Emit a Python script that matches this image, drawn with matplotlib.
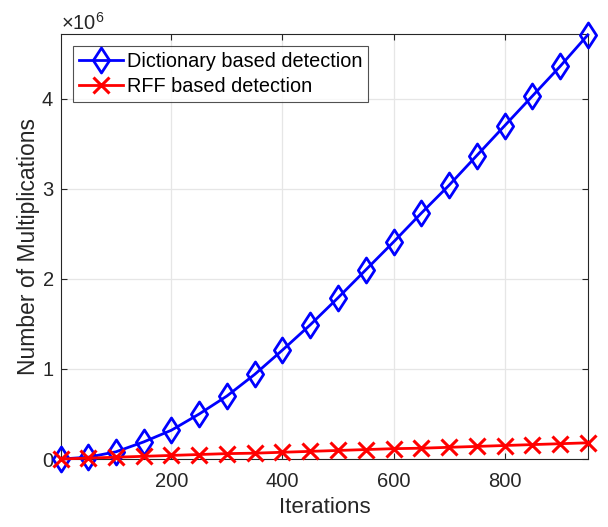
import matplotlib
matplotlib.use("Agg")
import matplotlib.pyplot as plt
from matplotlib.path import Path

plt.rcParams['font.family'] = ['Liberation Sans', 'DejaVu Sans']
plt.rcParams['mathtext.fontset'] = 'custom'
plt.rcParams['mathtext.rm'] = 'Liberation Sans'

iterations = [1, 50, 100, 150, 200, 250, 300, 350, 400, 450, 500,
              550, 600, 650, 700, 750, 800, 850, 900, 950]
dict_mults = [0.0, 0.02, 0.08, 0.19, 0.32, 0.50, 0.70, 0.94, 1.21, 1.49, 1.79,
              2.10, 2.41, 2.73, 3.04, 3.37, 3.70, 4.03, 4.36, 4.71]
rff_mults = [0.0, 0.01, 0.02, 0.03, 0.04, 0.05, 0.06, 0.065, 0.075, 0.085, 0.095,
             0.105, 0.115, 0.12, 0.13, 0.14, 0.15, 0.16, 0.17, 0.18]
dict_mults = [v * 1e6 for v in dict_mults]
rff_mults = [v * 1e6 for v in rff_mults]

xticks = [200, 400, 600, 800]
yticks = [0, 1e6, 2e6, 3e6, 4e6]

# matlab style diamond, a bit taller than wide
diamond = Path([(0, 1), (0.65, 0), (0, -1), (-0.65, 0), (0, 1)],
               [Path.MOVETO, Path.LINETO, Path.LINETO, Path.LINETO, Path.CLOSEPOLY])

fig = plt.figure(figsize=(6.08, 5.27), dpi=100)
ax = fig.add_axes([0.1003, 0.129, 0.8665, 0.8065])

ax.plot(iterations, dict_mults, color='#0000ff', lw=2, marker=diamond, ms=18,
        mfc='none', mew=2, clip_on=False, zorder=3, label='Dictionary based detection')
ax.plot(iterations, rff_mults, color='#ff0000', lw=2, marker='x', ms=12,
        mew=2.2, clip_on=False, zorder=3, label='RFF based detection')

ax.set_xlim(1, 950)
ax.set_ylim(0, 4.72e6)
ax.set_xticks(xticks)
ax.set_yticks(yticks)
ax.ticklabel_format(axis='y', style='sci', scilimits=(6, 6), useMathText=True)
ax.yaxis.get_offset_text().set_fontsize(14.5)
ax.yaxis.get_offset_text().set_color('#262626')

ax.grid(True, color='#e6e6e6', lw=0.9)
ax.set_axisbelow(True)
ax.tick_params(direction='in', top=True, right=True, length=4, width=0.8,
               labelsize=14.5, colors='#262626', labelcolor='#262626')
ax.tick_params(axis='x', pad=9)
ax.tick_params(axis='y', pad=5)
for s in ax.spines.values():
    s.set_color('#262626')
    s.set_linewidth(0.8)

ax.set_xlabel('Iterations', fontsize=16, color='#262626', labelpad=5)
ax.set_ylabel('Number of Multiplications', fontsize=16.5, color='#262626', labelpad=1)

leg = ax.legend(loc='upper left', fontsize=14.3, frameon=True, fancybox=False,
                edgecolor='#262626', borderaxespad=0.6, handlelength=2.2,
                handletextpad=0.2, borderpad=0.3, labelspacing=0.3)
leg.get_frame().set_linewidth(0.8)

fig.savefig('out.png', dpi=100)
